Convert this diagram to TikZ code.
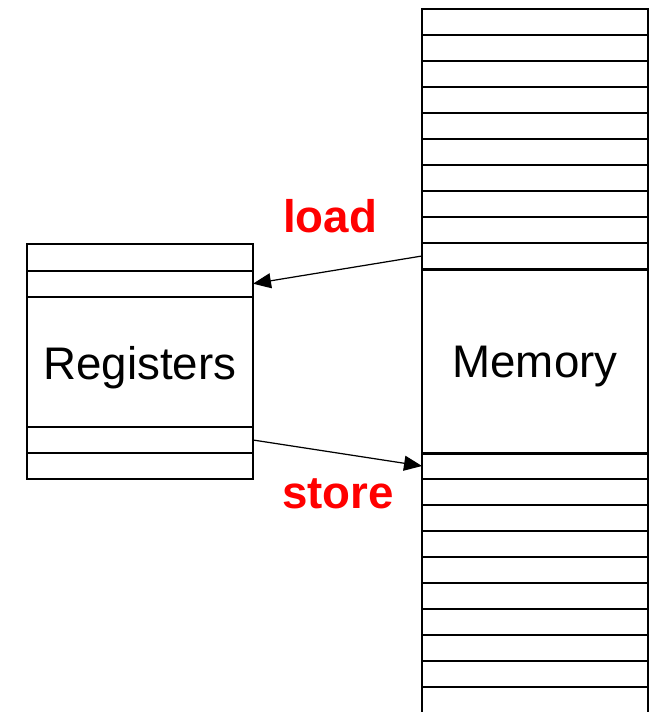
\documentclass[tikz,border=0pt]{standalone}
\usepackage{fontspec}
\setmainfont{Liberation Sans}
\usetikzlibrary{arrows.meta, positioning}
\definecolor{LabelRed}{HTML}{FF0000}

\begin{document}
\begin{tikzpicture}[x=0.02cm, y=-0.02cm,
    cell/.style={draw, line width=1pt, minimum width=4.52cm, minimum height=0.52cm,
                 inner sep=0pt, outer sep=0pt},
    bigtext/.style={font=\fontsize{26}{30}\selectfont, text depth=0pt},
    oplabel/.style={font=\fontsize{26}{30}\selectfont\bfseries, text=LabelRed, anchor=base},
    flow/.style={line width=0.7pt, -{Triangle[length=0.36cm, width=0.3cm]}}]
        \useasboundingbox (0,0) rectangle (653,712);
        % memory words
        \foreach \k in {1,...,10} {
          \node[cell] (mt\k) at (535, {-4+26*\k}) {};
          \node[cell] (mb\k) at (535, {440+26*\k}) {};
        }
        \node[cell, minimum height=3.68cm, bigtext] (mem) at (535, 362) {Memory};
        % register file
        \node[cell, minimum height=0.53cm] (r1) at (140, 257.5) {};
        \node[cell, minimum height=0.52cm] (r2) at (140, 283.7) {};
        \node[cell, minimum height=2.6cm, bigtext] (regs) at (140, 362.5) {Registers};
        \node[cell, minimum height=0.53cm] (r3) at (140, 440) {};
        \node[cell, minimum height=0.52cm] (r4) at (140, 466.3) {};
        % transfers
        \draw[flow] (mt10.west) -- (r2.east);
        \draw[flow] (r3.east) -- (mb1.west);
        \node[oplabel] (load) at (330, 233) {load};
        \node[oplabel] (store) at (338, 508) {store};
      \end{tikzpicture}
\end{document}
